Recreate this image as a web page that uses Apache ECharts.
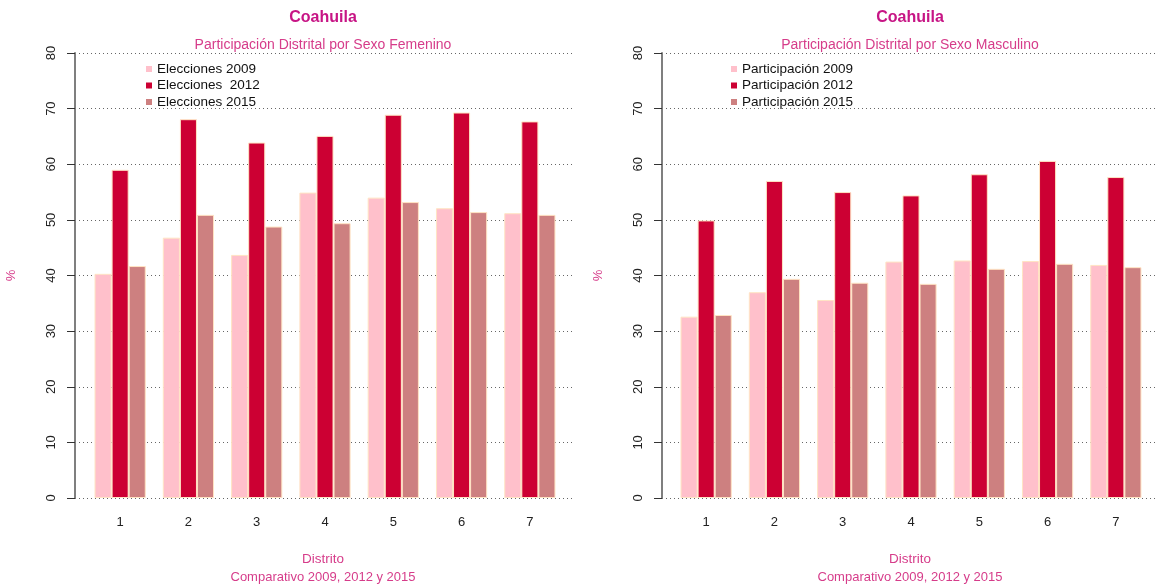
<!DOCTYPE html>
<html>
<head>
<meta charset="utf-8">
<script src="https://cdn.jsdelivr.net/npm/echarts@6/dist/echarts.min.js"></script>
<style>
  html, body { margin: 0; padding: 0; background: #fff; }
  #chart { width: 1159px; height: 588px; }
</style>
</head>
<body>
<div id="chart"></div>
<script>
// datos
var distritos = ['1', '2', '3', '4', '5', '6', '7'];
var yTicks = [0, 80, 10];   // min, max, intervalo

var nombresFem = ['Elecciones 2009', 'Elecciones  2012', 'Elecciones 2015'];
var nombresMas = ['Participación 2009', 'Participación 2012', 'Participación 2015'];

var fem2009 = [40.3, 46.8, 43.7, 54.9, 54.0, 52.1, 51.2];
var fem2012 = [59.0, 68.1, 63.9, 65.1, 68.9, 69.3, 67.7];
var fem2015 = [41.7, 50.9, 48.8, 49.4, 53.2, 51.4, 50.9];

var mas2009 = [32.6, 37.0, 35.6, 42.5, 42.7, 42.6, 41.9];
var mas2012 = [49.9, 57.0, 55.0, 54.4, 58.2, 60.6, 57.7];
var mas2015 = [32.9, 39.4, 38.7, 38.5, 41.2, 42.1, 41.5];

var colores = ['#FFC0CB', '#CC0033', '#CD8080'];
var FONT = '"Liberation Sans", Arial, Helvetica, sans-serif';
var MAGENTA = '#C71585';
var MAGENTA2 = '#D63C8A';

var TOP = 53, H = 445;

// eje y visible (con lineas punteadas) en un grid, barras en otro
function ejeY(grid, visible) {
    return {
        gridIndex: grid, type: 'value', min: yTicks[0], max: yTicks[1], interval: yTicks[2],
        show: visible,
        name: visible ? '%' : '', nameLocation: 'middle', nameGap: 57, nameRotate: 90,
        nameTextStyle: { color: MAGENTA2, fontSize: 13, fontFamily: FONT },
        axisLine: { show: true, lineStyle: { color: '#7f7f7f', width: 2 } },
        axisTick: { show: true, length: 8, lineStyle: { color: '#333', width: 1 } },
        axisLabel: { rotate: 90, margin: 17, fontSize: 13, color: '#222', fontFamily: FONT },
        splitLine: { show: true, lineStyle: { color: '#666', width: 1, type: [1, 3] } }
    };
}

function ejeX(grid, categorias) {
    if (!categorias) {
        return { gridIndex: grid, type: 'value', show: false, min: 0, max: 1 };
    }
    return {
        gridIndex: grid, type: 'category', data: categorias,
        axisLine: { show: false }, axisTick: { show: false },
        axisLabel: { margin: 18, fontSize: 13, color: '#222', fontFamily: FONT },
        splitLine: { show: false }
    };
}

function barras(nombres, valores, eje) {
    return valores.map(function (v, i) {
        return {
            name: nombres[i], type: 'bar', data: v,
            xAxisIndex: eje, yAxisIndex: eje,
            barWidth: '25%', barGap: '0%',
            itemStyle: { color: colores[i], borderColor: '#FFE4C4', borderWidth: 1 }
        };
    });
}

function leyenda(left, nombres) {
    return {
        orient: 'vertical', left: left, top: 62, padding: 0,
        icon: 'rect', itemWidth: 6, itemHeight: 6, itemGap: 2.5,
        data: nombres.map(function (n, i) { return { name: n, itemStyle: { color: colores[i], borderWidth: 0 } }; }),
        textStyle: { fontSize: 13.5, color: '#111', fontFamily: FONT },
        selectedMode: false
    };
}

function textos(cx, subtitulo) {
    return [
        { type: 'text', x: cx, y: 18, style: { text: 'Coahuila', textAlign: 'center', textVerticalAlign: 'middle', fill: MAGENTA, fontSize: 16, fontWeight: 'bold', fontFamily: FONT } },
        { type: 'text', x: cx, y: 45, style: { text: subtitulo, textAlign: 'center', textVerticalAlign: 'middle', fill: MAGENTA2, fontSize: 14, fontFamily: FONT } },
        { type: 'text', x: cx, y: 559, style: { text: 'Distrito', textAlign: 'center', textVerticalAlign: 'middle', fill: MAGENTA2, fontSize: 13.5, fontFamily: FONT } },
        { type: 'text', x: cx, y: 577, style: { text: 'Comparativo 2009, 2012 y 2015', textAlign: 'center', textVerticalAlign: 'middle', fill: MAGENTA2, fontSize: 13, fontFamily: FONT } }
    ];
}

var option = {
    animation: false,
    backgroundColor: '#fff',
    grid: [
        { left: 75, top: TOP, width: 498, height: H },
        { left: 86, top: TOP, width: 478, height: H },
        { left: 662, top: TOP, width: 496, height: H },
        { left: 672, top: TOP, width: 478, height: H }
    ],
    xAxis: [ejeX(0), ejeX(1, distritos), ejeX(2), ejeX(3, distritos)],
    yAxis: [ejeY(0, true), ejeY(1, false), ejeY(2, true), ejeY(3, false)],
    legend: [leyenda(146, nombresFem), leyenda(731, nombresMas)],
    graphic: textos(323, 'Participación Distrital por Sexo Femenino')
        .concat(textos(910, 'Participación Distrital por Sexo Masculino')),
    series: barras(nombresFem, [fem2009, fem2012, fem2015], 1)
        .concat(barras(nombresMas, [mas2009, mas2012, mas2015], 3))
};

var myChart = echarts.init(document.getElementById('chart'));
myChart.setOption(option);
</script>
</body>
</html>
